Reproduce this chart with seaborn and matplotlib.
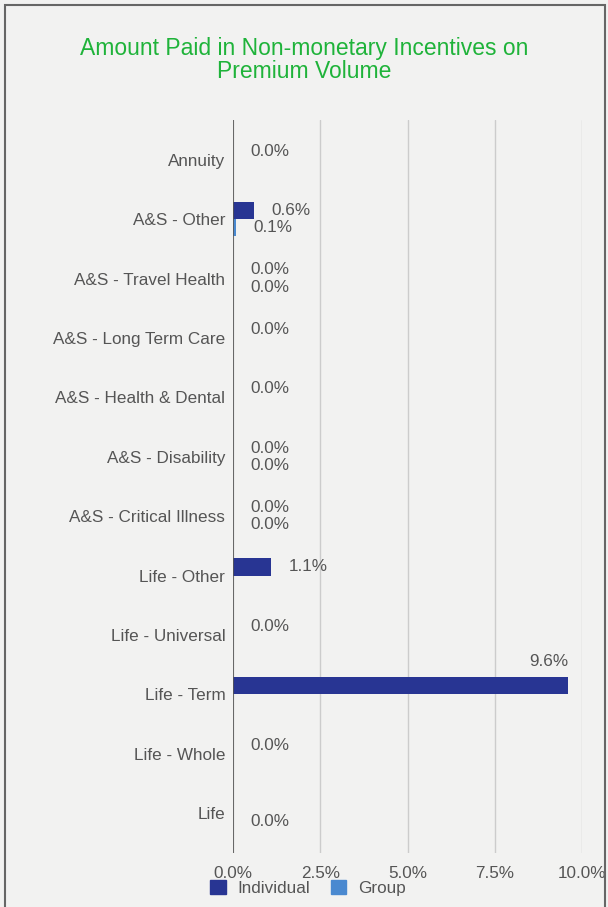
import numpy as np
import pandas as pd
import matplotlib
matplotlib.use("Agg")
import matplotlib.pyplot as plt
from matplotlib.patches import Patch, Rectangle
import seaborn as sns

categories = ["Annuity", "A&S - Other", "A&S - Travel Health", "A&S - Long Term Care",
              "A&S - Health & Dental", "A&S - Disability", "A&S - Critical Illness",
              "Life - Other", "Life - Universal", "Life - Term", "Life - Whole", "Life"]
individual = [0.0, 0.6, 0.0, 0.0, 0.0, 0.0, 0.0, 1.1, 0.0, 9.6, 0.0, np.nan]
group = [np.nan, 0.1, 0.0, np.nan, np.nan, 0.0, 0.0, np.nan, np.nan, np.nan, np.nan, 0.0]
series = ["Individual", "Group"]
xticks = [0, 2.5, 5, 7.5, 10]
title = "Amount Paid in Non-monetary Incentives on\nPremium Volume"

colors = {"Individual": "#283593", "Group": "#4a89d0"}
bg = "#f2f2f1"
txt = "#555555"
fs = 12.3

df = pd.DataFrame({
    "category": categories * 2,
    "series": ["Individual"] * len(categories) + ["Group"] * len(categories),
    "value": individual + group,
})

sns.set_theme(style="white")
plt.rcParams["font.family"] = ["Liberation Sans", "DejaVu Sans"]

fig = plt.figure(figsize=(6.08, 9.07), dpi=100, facecolor=bg)
ax = fig.add_axes([233 / 608, 1 - 853 / 907, (582 - 233) / 608, (853 - 120) / 907])
ax.set_facecolor(bg)

sns.barplot(data=df, y="category", x="value", hue="series", order=categories,
            hue_order=series, palette=colors, width=0.58, orient="h", ax=ax,
            legend=False, saturation=1, linewidth=0)

ax.set_xlim(0, 10)
ax.set_ylim(11.67, -0.67)
ax.set_xticks(xticks)
ax.set_xticklabels([f"{t:.1f}%" for t in xticks])
ax.set_xlabel("")
ax.set_ylabel("")
for s in ax.spines.values():
    s.set_visible(False)
ax.grid(axis="x", color="#cccccc", lw=1)
ax.grid(axis="y", visible=False)
ax.set_axisbelow(True)
ax.axvline(0, color="#555555", lw=1.2, zorder=3)
ax.tick_params(axis="x", length=0, pad=9, labelsize=fs, labelcolor=txt)
ax.tick_params(axis="y", length=0, pad=5.5, labelsize=fs, labelcolor=txt)

# data labels
for container, name in zip(ax.containers, series):
    vals = individual if name == "Individual" else group
    for bar in container.patches:
        yc = bar.get_y() + bar.get_height() / 2
        idx = int(round(yc))
        v = vals[idx]
        if v is None or np.isnan(v):
            continue
        if v > 9:
            ax.annotate(f"{v:.1f}%", xy=(v, bar.get_y()), xytext=(0, 8),
                        textcoords="offset pixels", ha="right", va="bottom",
                        fontsize=fs, color=txt)
        else:
            ax.annotate(f"{v:.1f}%", xy=(v, yc), xytext=(17, 0),
                        textcoords="offset pixels", ha="left", va="center",
                        fontsize=fs, color=txt)

fig.text(0.5, 1 - 60 / 907, title, ha="center", va="center", fontsize=16.5,
         color="#1fb33a", linespacing=1.05)

handles = [Patch(facecolor=colors[s], edgecolor=colors[s], label=s) for s in series]
fig.legend(handles=handles, loc="center left", bbox_to_anchor=(195 / 608, 1 - 888 / 907),
           ncol=2, frameon=False, fontsize=fs, handlelength=0.9, handleheight=0.9,
           columnspacing=1.2, handletextpad=0.7, labelcolor=txt)

fig.patches.append(Rectangle((5 / 608, -0.01), 600 / 608, 1 - 5 / 907 + 0.01,
                             transform=fig.transFigure, fill=False,
                             edgecolor="#666666", lw=1.5))

fig.savefig("out.png", dpi=100, facecolor=bg)
